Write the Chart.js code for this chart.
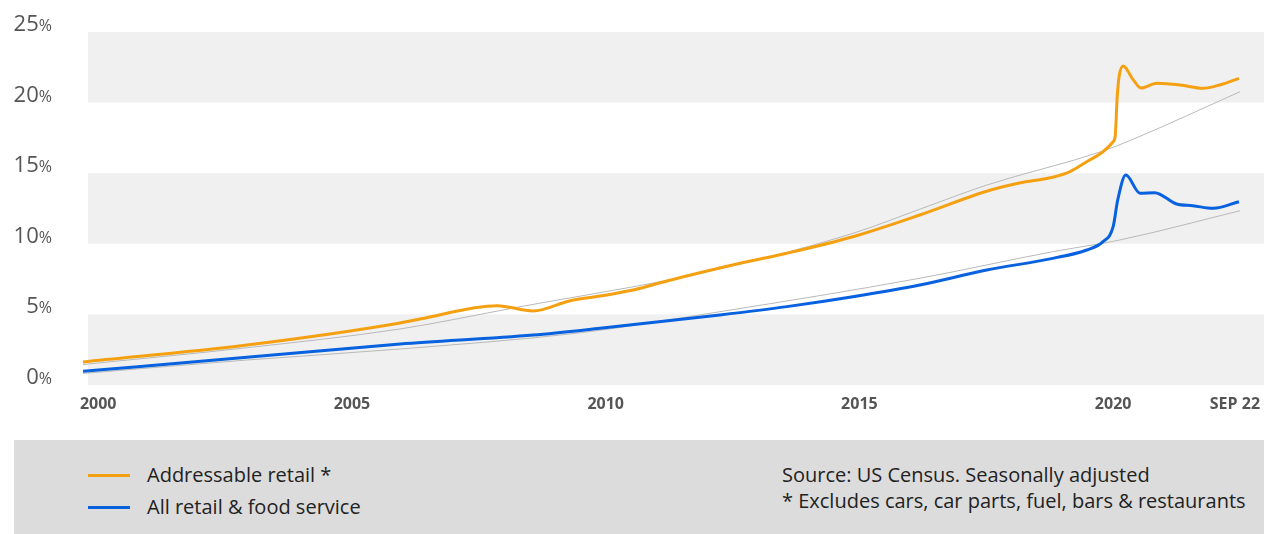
<!DOCTYPE html>
<html>
<head>
<meta charset="utf-8">
<script src="https://cdn.jsdelivr.net/npm/chart.js@4.4.0/dist/chart.umd.min.js"></script>
<style>
  body { margin: 0; background: #fff; font-family: "Open Sans", Lato, sans-serif; }
  .wrap { position: relative; width: 1264px; height: 534px; }
  .footer {
    position: absolute; left: 14px; top: 440px; width: 1250px; height: 94px;
    background: #dcdcdc; color: #222; font-size: 20px;
  }
  .item { position: absolute; left: 74px; height: 26px; line-height: 26px; }
  .item span.swatch { position: absolute; left: 0; top: 12px; width: 42px; height: 3px; }
  .item span.label { position: absolute; left: 59px; white-space: nowrap; }
  .note { position: absolute; left: 768px; white-space: nowrap; line-height: 26px; }
</style>
</head>
<body>
<div class="wrap">
  <canvas id="shareChart" width="1264" height="440"></canvas>
  <div class="footer">
    <div class="item" style="top:22px"><span class="swatch" style="background:#f5a011"></span><span class="label">Addressable retail *</span></div>
    <div class="item" style="top:54px"><span class="swatch" style="background:#0862e0"></span><span class="label">All retail &amp; food service</span></div>
    <div class="note" style="top:22px">Source: US Census. Seasonally adjusted</div>
    <div class="note" style="top:48px">* Excludes cars, car parts, fuel, bars &amp; restaurants</div>
  </div>
</div>
<script>
// online share of retail sales, % (years as decimals)
const addrYears = [1999.7, 2002.93, 2005.95, 2006.34, 2007.86, 2008.57, 2009.3, 2009.89, 2010.54, 2011.21,
  2012.65, 2013.57, 2014.87, 2016.19, 2017.51, 2018.15, 2018.81, 2019.15, 2019.48, 2019.8, 2020.0,
  2020.04, 2020.08, 2020.12, 2020.2, 2020.38, 2020.55, 2020.86, 2021.32, 2021.77, 2022.1, 2022.48];
const addrValues = [1.63, 2.83, 4.39, 4.67, 5.62, 5.24, 5.97, 6.3, 6.73, 7.37,
  8.62, 9.33, 10.5, 12.04, 13.72, 14.3, 14.71, 15.11, 15.81, 16.52, 17.23,
  17.6, 20.4, 21.9, 22.59, 21.7, 21.03, 21.37, 21.25, 21.01, 21.25, 21.72];

const allYears = [1999.7, 2002.93, 2005.95, 2008.57, 2009.89, 2012.25, 2013.57, 2014.87, 2016.19, 2017.51,
  2018.81, 2019.48, 2019.8, 2020.0, 2020.09, 2020.25, 2020.53, 2020.82, 2021.25, 2021.57, 2021.97, 2022.48];
const allValues = [0.97, 1.96, 2.9, 3.54, 4.02, 4.96, 5.55, 6.25, 7.08, 8.14,
  8.97, 9.56, 10.15, 11.21, 13.1, 14.87, 13.58, 13.62, 12.82, 12.7, 12.51, 12.98];

// pre-2020 trend curves
const addrTrendYears = [1999.7, 2002.93, 2005.95, 2008.25, 2011.86, 2014.87, 2016.19, 2017.51, 2019.8, 2020.39, 2022.5];
const addrTrendValues = [1.45, 2.64, 3.97, 5.5, 7.91, 10.74, 12.45, 14.16, 16.57, 17.4, 20.77];
const allTrendYears = [1999.7, 2002.93, 2005.95, 2009.5, 2012.25, 2016.19, 2018.81, 2020.13, 2022.5];
const allTrendValues = [0.82, 1.77, 2.55, 3.7, 5.19, 7.56, 9.44, 10.27, 12.34];

const tickYears = [2000, 2005, 2010, 2015, 2020, 2022.4];
const tickLabels = ['2000', '2005', '2010', '2015', '2020', 'SEP 22'];
const yTicks = [0, 5, 10, 15, 20, 25];

function points(xs, ys) {
  return xs.map((x, i) => ({ x: x, y: ys[i] }));
}

const bands = {
  id: 'bands',
  beforeDatasetsDraw(chart) {
    const { ctx, scales: { y } } = chart;
    ctx.save();
    ctx.fillStyle = '#f0f0f0';
    [[0, 5], [10, 15], [20, 25]].forEach(([lo, hi]) => {
      const top = y.getPixelForValue(hi);
      ctx.fillRect(88, top, chart.width - 88, y.getPixelForValue(lo) - top);
    });
    ctx.restore();
  }
};

const axisLabels = {
  id: 'axisLabels',
  afterDraw(chart) {
    const { ctx, scales: { x, y } } = chart;
    ctx.save();
    ctx.fillStyle = '#555';
    ctx.textBaseline = 'alphabetic';
    yTicks.forEach(v => {
      const py = y.getPixelForValue(v) - 1;
      ctx.font = '16px "Open Sans"';
      ctx.textAlign = 'right';
      ctx.fillText('%', 52, py);
      const w = ctx.measureText('%').width;
      ctx.font = '22px "Open Sans"';
      ctx.fillText(String(v), 52 - w, py);
    });
    ctx.font = 'bold 16px "Open Sans"';
    ctx.textAlign = 'center';
    tickYears.forEach((t, i) => {
      ctx.fillText(tickLabels[i], x.getPixelForValue(t), 409);
    });
    ctx.restore();
  }
};

const line = (data, color, width, order) => ({
  data: data,
  borderColor: color,
  borderWidth: width,
  pointRadius: 0,
  fill: false,
  cubicInterpolationMode: 'monotone',
  order: order
});

new Chart(document.getElementById('shareChart'), {
  type: 'line',
  data: {
    datasets: [
      line(points(addrYears, addrValues), '#f5a011', 3, 1),
      line(points(allYears, allValues), '#0862e0', 3, 2),
      line(points(addrTrendYears, addrTrendValues), '#b9b9b9', 1, 3),
      line(points(allTrendYears, allTrendValues), '#b9b9b9', 1, 4)
    ]
  },
  options: {
    responsive: false,
    animation: false,
    layout: { padding: { left: 83, right: 24, top: 32, bottom: 55 } },
    plugins: { legend: { display: false }, tooltip: { enabled: false } },
    scales: {
      x: { type: 'linear', min: 1999.7, max: 2022.5, display: false },
      y: { min: 0, max: 25, display: false }
    }
  },
  plugins: [bands, axisLabels]
});
</script>
</body>
</html>
